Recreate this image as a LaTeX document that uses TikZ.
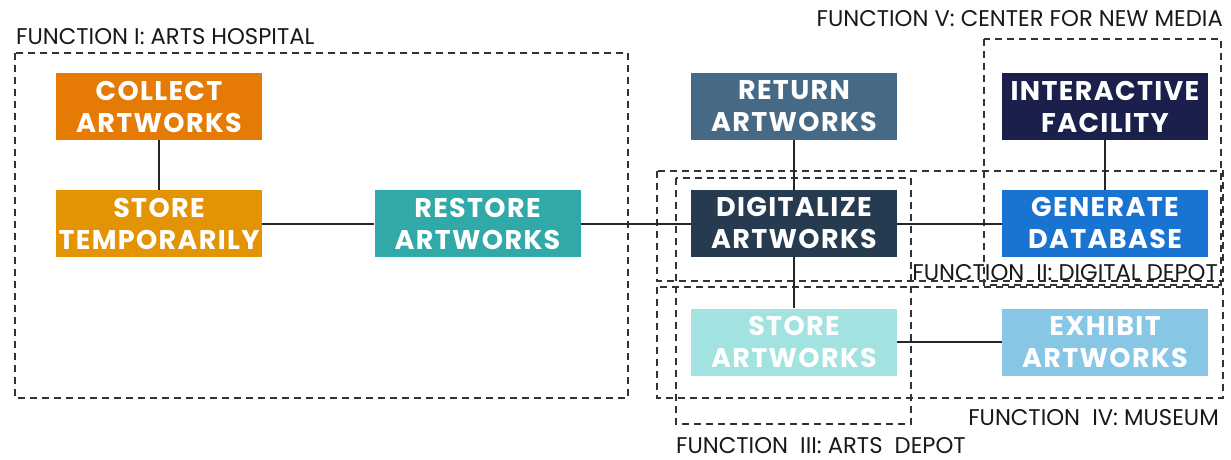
\documentclass[tikz,border=0pt]{standalone}
\usepackage{fontspec}
\setmainfont{Poppins}
\newfontfamily\boxfont[LetterSpace=5]{Poppins}
\definecolor{cCollect}{HTML}{E57A05}
\definecolor{cStoreT}{HTML}{E29404}
\definecolor{cRestore}{HTML}{31A9A8}
\definecolor{cReturn}{HTML}{466A85}
\definecolor{cInter}{HTML}{1A1F4C}
\definecolor{cDigit}{HTML}{263B50}
\definecolor{cGen}{HTML}{1874D0}
\definecolor{cStoreA}{HTML}{A2E2E1}
\definecolor{cExhibit}{HTML}{88C6E6}
\begin{document}
\begin{tikzpicture}[x=1pt,y=-1pt,
  box/.style={rectangle, minimum width=206pt, minimum height=67pt, inner sep=0pt, align=center, text=white, font=\boxfont\bfseries\fontsize{27}{32}\selectfont},
  link/.style={draw=black!85, line width=2pt},
  frame/.style={draw=black!80, line width=2.3pt, dash pattern=on 7pt off 5pt},
  lab/.style={inner sep=0pt, font=\fontsize{22.7}{26}\selectfont, text=black!90}]
\useasboundingbox[fill=white] (0,0) rectangle (1231,459);
% frames
\draw[frame] (15,53) rectangle (628,398);
\draw[frame] (984,39) rectangle (1221,285);
\draw[frame] (657,171) rectangle (1223,281);
\draw[frame] (676,178) rectangle (911,424);
\draw[frame] (657,287) rectangle (1223,398);
% labels
\node[lab, anchor=base west] (l1) at (16,44) {FUNCTION I: ARTS HOSPITAL};
\node[lab, anchor=base east] (l5) at (1223,26) {FUNCTION V: CENTER FOR NEW MEDIA};
\node[lab, anchor=base east] (l2) at (1218,280) {FUNCTION\ \ II: DIGITAL DEPOT};
\node[lab, anchor=base west] (l3) at (676,453) {FUNCTION\ \ III: ARTS\ \ DEPOT};
\node[lab, anchor=base east] (l4) at (1219,425) {FUNCTION\ \ IV: MUSEUM};
% boxes
\node[box, fill=cCollect] (collect) at (159,106.5) {COLLECT\\ARTWORKS};
\node[box, fill=cStoreT] (storet) at (159,223.5) {STORE\\TEMPORARILY};
\node[box, fill=cRestore] (restore) at (477.5,223.5) {RESTORE\\ARTWORKS};
\node[box, fill=cReturn] (return) at (794,106.5) {RETURN\\ARTWORKS};
\node[box, fill=cInter] (inter) at (1105,106.5) {INTERACTIVE\\FACILITY};
\node[box, fill=cDigit] (digit) at (794,223.5) {DIGITALIZE\\ARTWORKS};
\node[box, fill=cGen] (gen) at (1105,223.5) {GENERATE\\DATABASE};
\node[box, fill=cStoreA] (storea) at (794,342) {STORE\\ARTWORKS};
\node[box, fill=cExhibit] (exhibit) at (1105,342) {EXHIBIT\\ARTWORKS};
% connectors
\draw[link] (collect) -- (storet);
\draw[link] (storet) -- (restore);
\draw[link] (restore) -- (digit);
\draw[link] (digit) -- (gen);
\draw[link] (return) -- (digit);
\draw[link] (digit) -- (storea);
\draw[link] (storea) -- (exhibit);
\draw[link] (inter) -- (gen);
\end{tikzpicture}
\end{document}
